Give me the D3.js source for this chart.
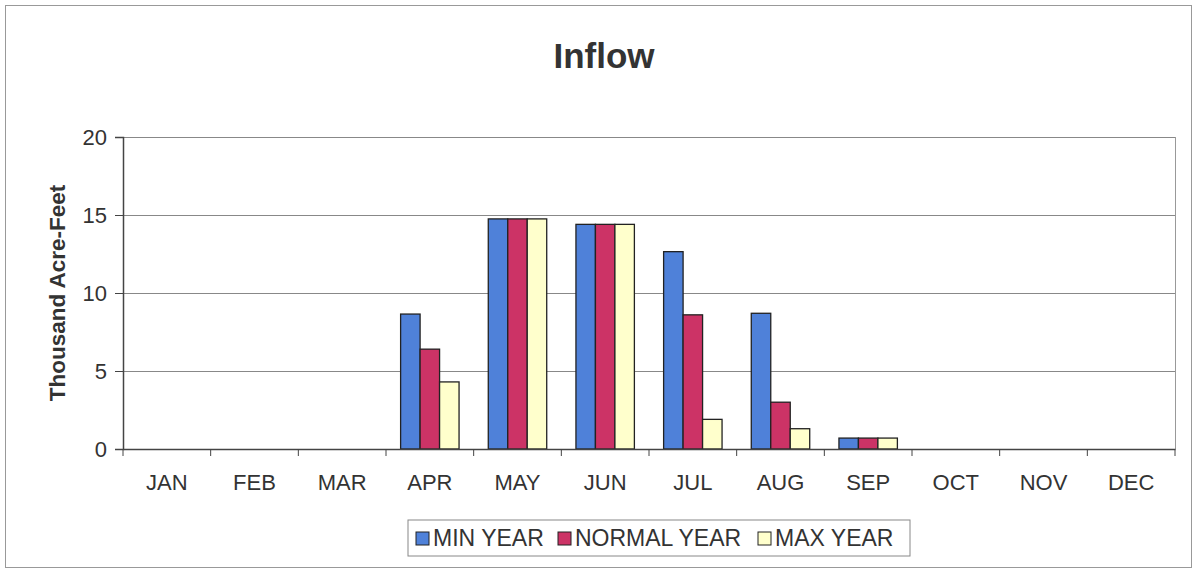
<!DOCTYPE html>
<html>
<head>
<meta charset="utf-8">
<script src="https://cdn.jsdelivr.net/npm/d3@7"></script>
<style>
  body { margin: 0; background: #fff; }
  text { font-family: "Liberation Sans", Arial, sans-serif; }
</style>
</head>
<body>
<script>
const months = ["JAN", "FEB", "MAR", "APR", "MAY", "JUN", "JUL", "AUG", "SEP", "OCT", "NOV", "DEC"];
const seriesNames = ["MIN YEAR", "NORMAL YEAR", "MAX YEAR"];
const minYear = [0, 0, 0, 8.65, 14.75, 14.4, 12.65, 8.7, 0.7, 0, 0, 0];
const normalYear = [0, 0, 0, 6.4, 14.75, 14.4, 8.6, 3.0, 0.7, 0, 0, 0];
const maxYear = [0, 0, 0, 4.3, 14.75, 14.4, 1.9, 1.3, 0.7, 0, 0, 0];
const yTicks = [0, 5, 10, 15, 20];
const colors = ["#4f81d9", "#cc3366", "#ffffcc"];

const W = 1197, H = 573;
const margin = { top: 137, right: 22, bottom: 124, left: 123 };
const width = W - margin.left - margin.right;
const height = H - margin.top - margin.bottom;

const svg = d3.select("body").append("svg")
    .attr("width", W)
    .attr("height", H);

// chart border
svg.append("rect")
    .attr("x", 5.5).attr("y", 5.5)
    .attr("width", W - 11).attr("height", H - 11)
    .attr("fill", "none").attr("stroke", "#999");

svg.append("text")
    .attr("x", 604).attr("y", 68)
    .attr("text-anchor", "middle")
    .attr("font-size", 35).attr("font-weight", "bold")
    .attr("fill", "#333")
    .text("Inflow");

const g = svg.append("g")
    .attr("transform", `translate(${margin.left},${margin.top})`);

const x = d3.scaleBand()
    .domain(months)
    .range([0, width]);

const y = d3.scaleLinear()
    .domain([0, 20])
    .range([height, 0]);

// gridlines
g.selectAll(".grid")
    .data(yTicks.filter(d => d > 0))
    .join("line")
    .attr("x1", 0).attr("x2", width)
    .attr("y1", d => y(d) + 0.5).attr("y2", d => y(d) + 0.5)
    .attr("stroke", "#888").attr("stroke-width", 1.2);

// right edge of plot area
g.append("line")
    .attr("x1", width + 0.5).attr("x2", width + 0.5)
    .attr("y1", 0).attr("y2", height)
    .attr("stroke", "#999");

// bars
const data = [minYear, normalYear, maxYear];
const barW = x.bandwidth() / 4.5;
const inner = d3.scaleBand()
    .domain(seriesNames)
    .range([barW * 0.75, barW * 3.75]);

const groups = g.selectAll(".month")
    .data(months)
    .join("g")
    .attr("transform", d => `translate(${x(d)},0)`);

groups.selectAll("rect")
    .data((m, i) => seriesNames.map((s, j) => ({ s, v: data[j][i], c: colors[j] })).filter(d => d.v > 0))
    .join("rect")
    .attr("x", d => inner(d.s))
    .attr("y", d => y(d.v))
    .attr("width", inner.bandwidth())
    .attr("height", d => height - y(d.v))
    .attr("fill", d => d.c)
    .attr("stroke", "#222")
    .attr("stroke-width", 1.3);

// y axis
const yAxis = g.append("g")
    .call(d3.axisLeft(y).tickValues(yTicks).tickSize(8).tickPadding(8));
yAxis.select(".domain").attr("stroke", "#444").attr("stroke-width", 1.5);
yAxis.selectAll(".tick line").attr("stroke", "#444");
yAxis.selectAll("text").attr("font-size", 22).attr("fill", "#333");

// x axis
const xAxis = g.append("g")
    .attr("transform", `translate(0,${height})`)
    .call(d3.axisBottom(x).tickSize(0).tickPadding(25));
xAxis.select(".domain").attr("stroke", "#444").attr("stroke-width", 1.5);
xAxis.selectAll("text").attr("font-size", 22).attr("fill", "#333");

g.selectAll(".xtick")
    .data(d3.range(13))
    .join("line")
    .attr("x1", i => i * x.step()).attr("x2", i => i * x.step())
    .attr("y1", height).attr("y2", height + 7)
    .attr("stroke", "#444");

// y axis title
svg.append("text")
    .attr("transform", `translate(65,${margin.top + height / 2}) rotate(-90)`)
    .attr("text-anchor", "middle")
    .attr("font-size", 22.5).attr("font-weight", "bold")
    .attr("fill", "#333")
    .text("Thousand Acre-Feet");

// legend
const legend = svg.append("g").attr("transform", "translate(408,520)");
legend.append("rect")
    .attr("width", 502).attr("height", 36)
    .attr("fill", "#fff").attr("stroke", "#888");

const legendX = [8, 150, 350];
seriesNames.forEach((s, i) => {
    const item = legend.append("g").attr("transform", `translate(${legendX[i]},0)`);
    item.append("rect")
        .attr("x", 0).attr("y", 12)
        .attr("width", 13).attr("height", 13)
        .attr("fill", colors[i]).attr("stroke", "#222");
    item.append("text")
        .attr("x", 17).attr("y", 26)
        .attr("font-size", 23).attr("fill", "#333")
        .text(s);
});
</script>
</body>
</html>
